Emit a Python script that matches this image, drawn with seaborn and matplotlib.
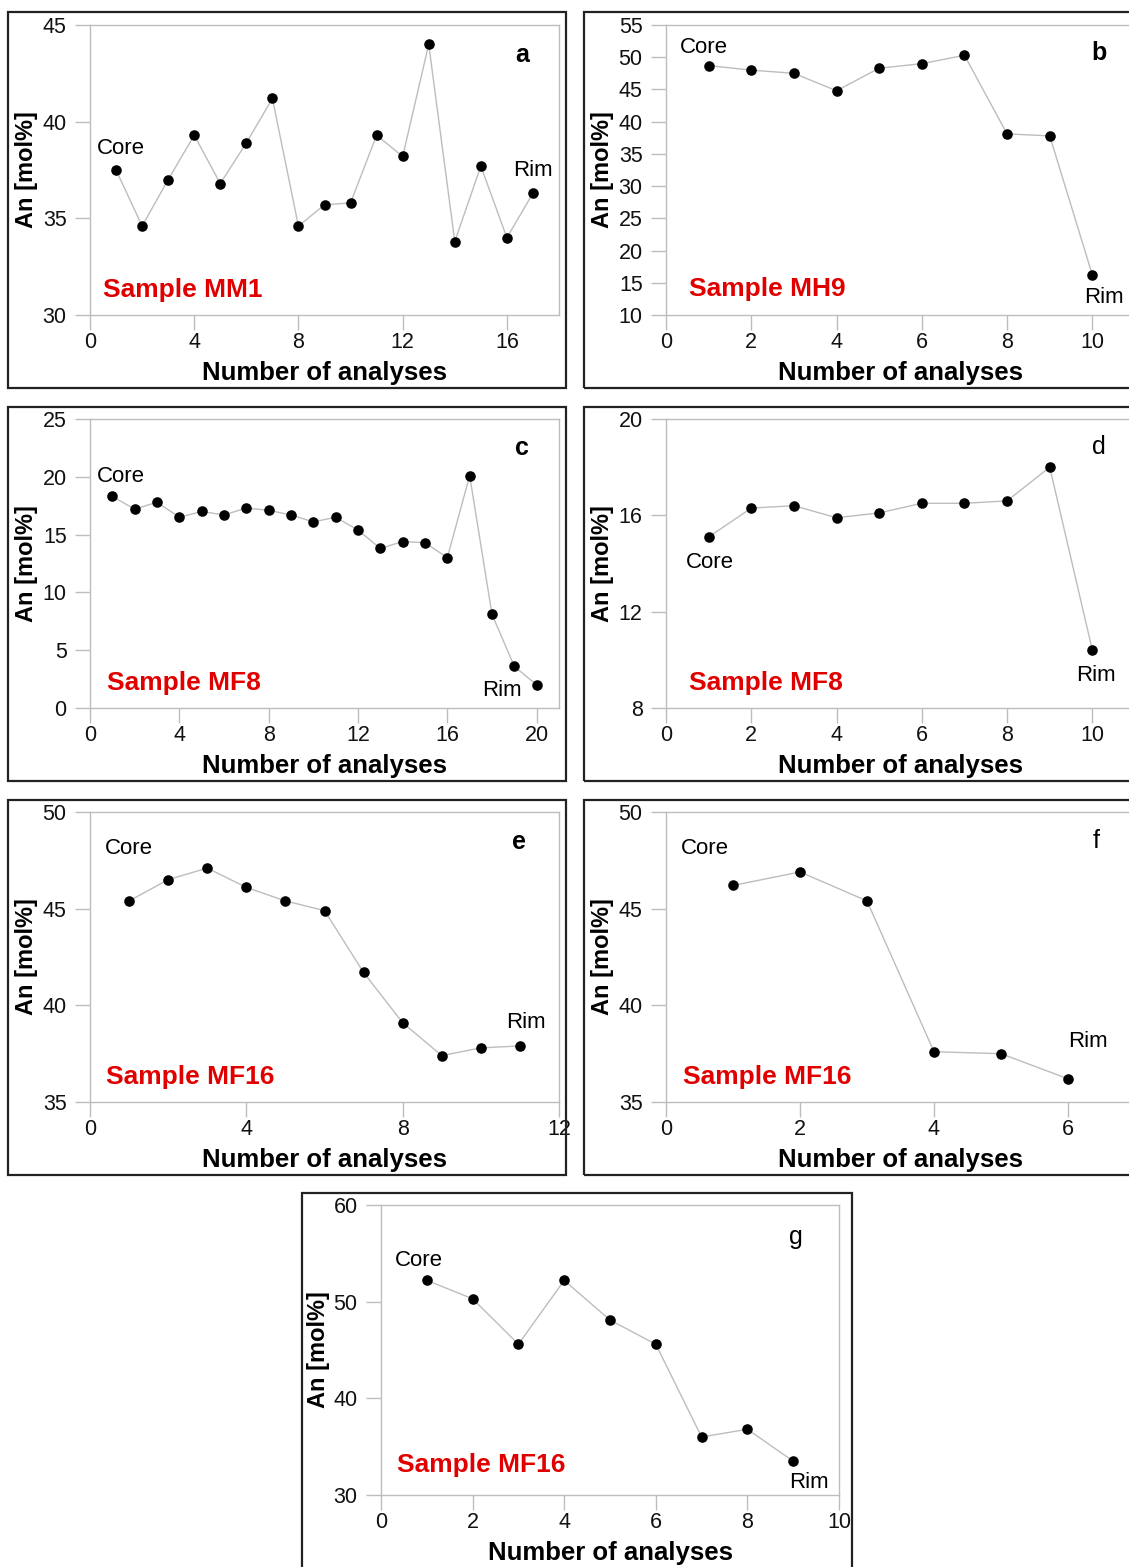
import matplotlib
matplotlib.use('Agg')
import matplotlib.pyplot as plt
import seaborn as sns
import pandas as pd
from matplotlib.patches import Rectangle

sns.set_theme(style='white')
plt.rcParams['font.family'] = ['Liberation Sans', 'DejaVu Sans']

# ---------------- data (An mol% per analysis, core -> rim) ----------------
an_mm1 = [37.5, 34.6, 37.0, 39.3, 36.8, 38.9, 41.2, 34.6, 35.7, 35.8,
          39.3, 38.2, 44.0, 33.8, 37.7, 34.0, 36.3]
an_mh9 = [48.7, 48.0, 47.5, 44.8, 48.3, 49.0, 50.3, 38.1, 37.8, 16.2]
an_mf8_c = [18.3, 17.2, 17.8, 16.5, 17.0, 16.7, 17.3, 17.1, 16.7, 16.1,
            16.5, 15.4, 13.8, 14.4, 14.3, 13.0, 20.1, 8.1, 3.6, 2.0]
an_mf8_d = [15.1, 16.3, 16.4, 15.9, 16.1, 16.5, 16.5, 16.6, 18.0, 10.4]
an_mf16_e = [45.4, 46.5, 47.1, 46.1, 45.4, 44.9, 41.7, 39.1, 37.4, 37.8, 37.9]
an_mf16_f = [46.2, 46.9, 45.4, 37.6, 37.5, 36.2]
an_mf16_g = [52.2, 50.3, 45.6, 52.2, 48.1, 45.6, 36.0, 36.8, 33.5]

sample_names = ['Sample MM1', 'Sample MH9', 'Sample MF8', 'Sample MF8',
                'Sample MF16', 'Sample MF16', 'Sample MF16']
panel_letters = ['a', 'b', 'c', 'd', 'e', 'f', 'g']

xticks_list = [[0, 4, 8, 12, 16], [0, 2, 4, 6, 8, 10], [0, 4, 8, 12, 16, 20],
               [0, 2, 4, 6, 8, 10], [0, 4, 8, 12], [0, 2, 4, 6], [0, 2, 4, 6, 8, 10]]
yticks_list = [[30, 35, 40, 45], [10, 15, 20, 25, 30, 35, 40, 45, 50, 55],
               [0, 5, 10, 15, 20, 25], [8, 12, 16, 20], [35, 40, 45, 50],
               [35, 40, 45, 50], [30, 40, 50, 60]]

series = [an_mm1, an_mh9, an_mf8_c, an_mf8_d, an_mf16_e, an_mf16_f, an_mf16_g]

# ---------------- layout / style ----------------
W, H = 1129, 1567
fig = plt.figure(figsize=(W / 100, H / 100), dpi=100)
fig.patch.set_facecolor('white')

panels = [
    dict(ax=(90, 25, 559, 315), fr=(8, 12, 566, 388), xlim=(0, 18), ylim=(30, 45),
         let=(16.6, 43.45, True), core=(1.2, 38.6), rim=(17.0, 37.45), samp=(0.5, 31.3)),
    dict(ax=(666, 25, 1135, 315), fr=(584, 12, 1142, 388), xlim=(0, 11), ylim=(10, 55),
         let=(10.16, 50.6, True), core=(0.9, 51.5), rim=(10.28, 12.7), samp=(0.55, 14.0)),
    dict(ax=(90, 419, 559, 708), fr=(8, 407, 566, 781), xlim=(0, 21), ylim=(0, 25),
         let=(19.34, 22.5, True), core=(1.4, 20.0), rim=(18.45, 1.55), samp=(0.75, 2.2)),
    dict(ax=(666, 419, 1135, 708), fr=(584, 407, 1142, 781), xlim=(0, 11), ylim=(8, 20),
         let=(10.16, 18.83, False), core=(1.03, 14.04), rim=(10.09, 9.34), samp=(0.55, 9.03)),
    dict(ax=(90, 812, 559, 1102), fr=(8, 800, 566, 1175), xlim=(0, 12), ylim=(35, 50),
         let=(10.98, 48.45, True), core=(1.0, 48.1), rim=(11.16, 39.13), samp=(0.4, 36.3)),
    dict(ax=(666, 812, 1135, 1102), fr=(584, 800, 1142, 1175), xlim=(0, 7), ylim=(35, 50),
         let=(6.42, 48.49, False), core=(0.58, 48.1), rim=(6.3, 38.13), samp=(0.25, 36.3)),
    dict(ax=(381, 1205, 839, 1495), fr=(302, 1193, 852, 1572), xlim=(0, 10), ylim=(30, 60),
         let=(9.06, 56.7, False), core=(0.82, 54.3), rim=(9.35, 31.3), samp=(0.35, 33.1)),
]

GRAY = '#bdbdbd'
LINE = '#bdbdbd'

for i, p in enumerate(panels):
    l, t, r, b = p['ax']
    ax = fig.add_axes([l / W, 1 - b / H, (r - l) / W, (b - t) / H])
    ax.set_facecolor('white')
    vals = series[i]
    df = pd.DataFrame({'n': list(range(1, len(vals) + 1)), 'an': vals})
    sns.lineplot(data=df, x='n', y='an', ax=ax, color=LINE, linewidth=1.0, zorder=2)
    sns.scatterplot(data=df, x='n', y='an', ax=ax, color='black', s=58,
                    edgecolor='black', linewidth=0, zorder=3, clip_on=False)
    ax.set_xlim(*p['xlim'])
    ax.set_ylim(*p['ylim'])
    ax.set_xticks(xticks_list[i])
    ax.set_yticks(yticks_list[i])
    for sp in ax.spines.values():
        sp.set_color(GRAY)
        sp.set_linewidth(1.0)
    ax.tick_params(axis='both', which='major', bottom=True, left=True, top=False, right=False,
                   direction='out', length=10.8, width=1.0, color=GRAY,
                   labelsize=15.5, labelcolor='#111111')
    ax.tick_params(axis='x', pad=1.5)
    ax.tick_params(axis='y', pad=6)
    wpx, hpx = r - l, b - t
    ax.set_xlabel('Number of analyses', fontsize=18.5, fontweight='bold', color='black')
    ax.xaxis.label.set_va('center')
    ax.xaxis.set_label_coords(0.5, -58 / hpx)
    ax.set_ylabel('An [mol%]', fontsize=17, fontweight='bold', color='black')
    ax.yaxis.label.set_va('center')
    ax.yaxis.set_label_coords(-63 / wpx, 0.5)

    lx, ly, lb = p['let']
    ax.text(lx, ly, panel_letters[i], fontsize=18, fontweight='bold' if lb else 'normal',
            ha='center', va='center', color='black')
    ax.text(*p['core'], 'Core', fontsize=16, ha='center', va='center', color='black')
    ax.text(*p['rim'], 'Rim', fontsize=16, ha='center', va='center', color='black')
    ax.text(*p['samp'], sample_names[i], fontsize=19, fontweight='bold', color='#e00000',
            ha='left', va='center')

    fl, ft, frr, fb = p['fr']
    fig.add_artist(Rectangle((fl / W, 1 - fb / H), (frr - fl) / W, (fb - ft) / H,
                             transform=fig.transFigure, fill=False,
                             edgecolor='#222222', linewidth=1.6, zorder=10))

fig.savefig('out.png', dpi=100, facecolor='white')
